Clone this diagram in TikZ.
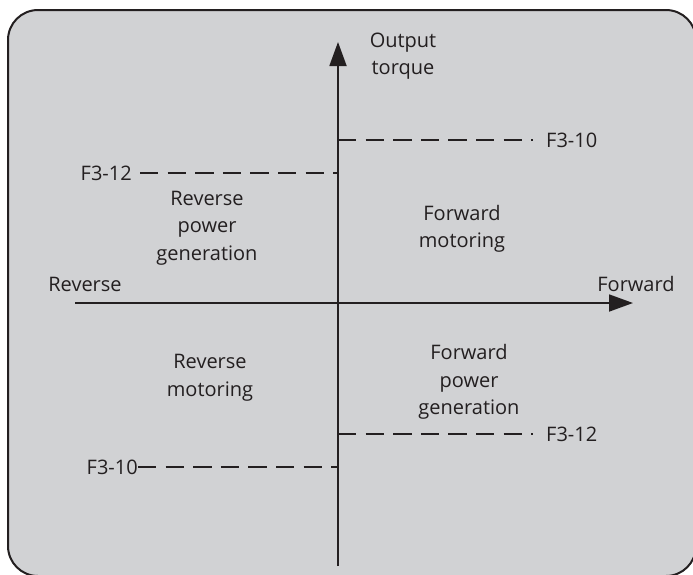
\documentclass[tikz,border=0pt]{standalone}
\usepackage{fontspec}
\setmainfont{Open Sans}
\usetikzlibrary{arrows.meta}
\definecolor{panel}{HTML}{D1D2D4}
\definecolor{ink}{HTML}{231F20}
\tikzset{
  lbl/.style={font=\fontsize{20}{27.5}\selectfont, text=ink, inner sep=0pt, align=center},
  axisline/.style={draw=ink, line width=1.8pt, -{Triangle[length=24pt,width=17pt]}},
  dashline/.style={draw=ink, line width=1.4pt, dash pattern=on 18.3pt off 9.3pt}
}
\begin{document}
\begin{tikzpicture}[x=1pt,y=-1pt]
\useasboundingbox (0,0) rectangle (693,574);
\begin{scope}
\clip (0,0) rectangle (693,574);
\draw[ink, fill=panel, line width=2pt, rounded corners=30pt] (8,10) rectangle (696,576);
\end{scope}
% axes
\coordinate (vb) at (338,566);
\coordinate (vt) at (338,42);
\coordinate (hl) at (75,303);
\coordinate (hr) at (633,303);
\draw[axisline] (vb) -- (vt);
\draw[axisline] (hl) -- (hr);
% axis labels
\node[lbl] (out) at (403,56) {Output\\torque};
\node[lbl] (rev) at (85,284) {Reverse};
\node[lbl] (fwd) at (636,284) {Forward};
% quadrant labels
\node[lbl] (rpg) at (207,228) {Reverse\\power\\generation};
\node[lbl] (fm) at (462,229) {Forward\\motoring};
\node[lbl] (rm) at (210,378) {Reverse\\motoring};
\node[lbl] (fpg) at (469,382) {Forward\\power\\generation};
% limit labels
\node[lbl, anchor=west] (f10a) at (546,140) {F3-10};
\node[lbl, anchor=east] (f12a) at (132,173) {F3-12};
\node[lbl, anchor=west] (f12b) at (546,434) {F3-12};
\node[lbl, anchor=east] (f10b) at (138,467) {F3-10};
\coordinate (a1) at (338,140);
\coordinate (a2) at (338,173);
\coordinate (a3) at (338,434);
\coordinate (a4) at (338,467);
\draw[dashline] (a1) -- (f10a.west -| 533,0);
\draw[dashline] (f12a.east -| 140,0) -- (a2);
\draw[dashline] (a3) -- (f12b.west -| 533,0);
\draw[dashline] (f10b.east) -- (a4);
\end{tikzpicture}
\end{document}
